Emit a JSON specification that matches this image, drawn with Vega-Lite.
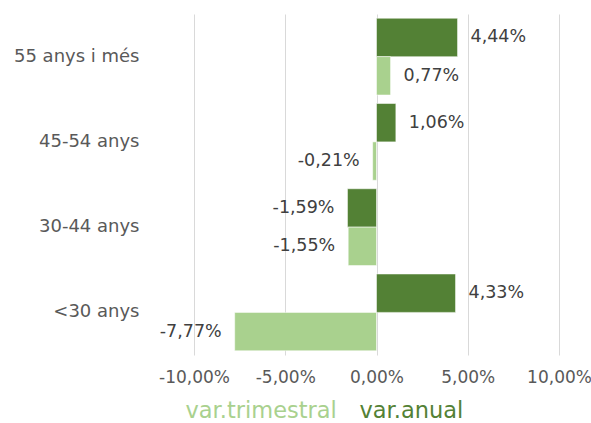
{
  "$schema": "https://vega.github.io/schema/vega-lite/v6.json",
  "width": 365,
  "height": 341,
  "autosize": {"type": "none"},
  "padding": {"left": 194, "top": 14, "right": 32, "bottom": 68},
  "background": "white",
  "config": {
    "locale": {"number": {"decimal": ",", "thousands": ".", "grouping": [3], "currency": ["", " €"], "minus": "-"}},
    "font": "DejaVu Sans",
    "view": {"stroke": null}
  },
  "data": {
    "values": [
      {"grup": "55 anys i més", "serie": "var.anual", "v": 0.0444},
      {"grup": "55 anys i més", "serie": "var.trimestral", "v": 0.0077},
      {"grup": "45-54 anys", "serie": "var.anual", "v": 0.0106},
      {"grup": "45-54 anys", "serie": "var.trimestral", "v": -0.0021},
      {"grup": "30-44 anys", "serie": "var.anual", "v": -0.0159},
      {"grup": "30-44 anys", "serie": "var.trimestral", "v": -0.0155},
      {"grup": "<30 anys", "serie": "var.anual", "v": 0.0433},
      {"grup": "<30 anys", "serie": "var.trimestral", "v": -0.0777}
    ]
  },
  "encoding": {
    "y": {
      "field": "grup", "type": "nominal",
      "sort": ["55 anys i més", "45-54 anys", "30-44 anys", "<30 anys"],
      "scale": {"paddingInner": 0.1, "paddingOuter": 0.05},
      "axis": {"title": null, "domain": false, "ticks": false, "labelPadding": 55, "labelFontSize": 18, "labelColor": "#595959", "labelFont": "DejaVu Sans"}
    },
    "yOffset": {"field": "serie", "type": "nominal", "sort": ["var.anual", "var.trimestral"], "scale": {"domain": ["var.anual", "var.trimestral"], "paddingInner": 0, "paddingOuter": 0}},
    "x": {
      "field": "v", "type": "quantitative",
      "scale": {"domain": [-0.1, 0.1], "nice": false},
      "axis": {"title": null, "format": ".2%", "values": [-0.1, -0.05, 0, 0.05, 0.1], "labelOverlap": false, "labelFlush": false, "domain": false, "ticks": false, "labelFontSize": 17, "labelColor": "#595959", "labelPadding": 14, "gridColor": "#d9d9d9", "gridWidth": 1}
    }
  },
  "layer": [
    {
      "mark": {"type": "bar", "stroke": "white", "strokeWidth": 0.5},
      "encoding": {
        "color": {
          "field": "serie", "type": "nominal",
          "scale": {"domain": ["var.trimestral", "var.anual"], "range": ["#A9D18E", "#538135"]},
          "legend": {
            "title": null, "orient": "none", "direction": "horizontal",
            "legendX": -31, "legendY": 386,
            "symbolSize": 0, "symbolStrokeWidth": 0, "symbolOpacity": 0, "labelOffset": 0,
            "columnPadding": -8, "labelFontSize": 22.5, "labelFont": "DejaVu Sans",
            "labelLimit": 300,
            "labelColor": {"expr": "datum.value === 'var.anual' ? '#538135' : '#A9D18E'"}
          }
        }
      }
    },
    {
      "transform": [{"filter": "datum.v >= 0"}],
      "mark": {"type": "text", "align": "left", "dx": 13, "fontSize": 17.5, "color": "#404040", "font": "DejaVu Sans"},
      "encoding": {"text": {"field": "v", "type": "quantitative", "format": ".2%"}}
    },
    {
      "transform": [{"filter": "datum.v < 0"}],
      "mark": {"type": "text", "align": "right", "dx": -13, "fontSize": 17.5, "color": "#404040", "font": "DejaVu Sans"},
      "encoding": {"text": {"field": "v", "type": "quantitative", "format": ".2%"}}
    }
  ]
}
